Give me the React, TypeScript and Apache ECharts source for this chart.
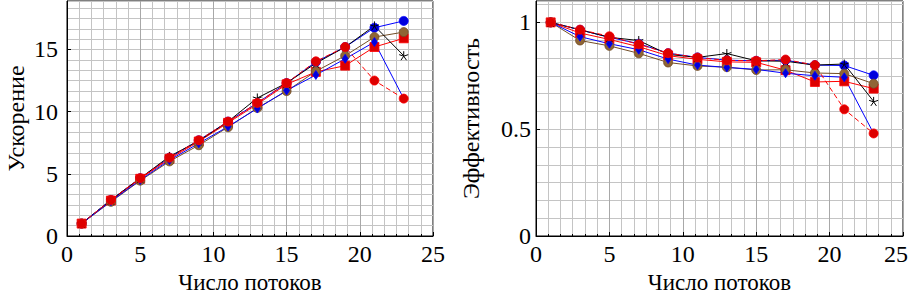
import React, { useEffect, useRef } from "react";
import * as echarts from "echarts";

const threads = [1, 3, 5, 7, 9, 11, 13, 15, 17, 19, 21, 23];

// Speedup (left chart)
const speedBlueCircle = [1, 2.9, 4.65, 6.3, 7.7, 9.2, 10.7, 12.3, 14.0, 15.2, 16.75, 17.3];
const speedRedSquare = [1, 2.85, 4.6, 6.2, 7.6, 9.1, 10.6, 12.2, 13.2, 13.7, 15.2, 15.9];
const speedBrown = [1, 2.75, 4.45, 6.0, 7.3, 8.75, 10.3, 11.65, 13.25, 14.5, 16.0, 16.4];
const speedBlackStar = [1, 2.9, 4.65, 6.4, 7.65, 9.2, 11.1, 12.3, 13.9, 15.2, 16.9, 14.5];
const speedBlueDiamond = [1, 2.8, 4.5, 6.1, 7.45, 8.8, 10.25, 11.7, 12.95, 14.25, 15.6, 11.05];
const speedRedDashed = [1, 2.9, 4.65, 6.3, 7.7, 9.2, 10.7, 12.3, 14.05, 15.2, 12.5, 11.05];

// Efficiency (right chart)
const effBlueCircle = [1, 0.965, 0.93, 0.9, 0.856, 0.836, 0.823, 0.82, 0.823, 0.8, 0.798, 0.752];
const effRedSquare = [1, 0.95, 0.92, 0.886, 0.844, 0.827, 0.815, 0.813, 0.776, 0.721, 0.724, 0.69];
const effBrown = [1, 0.915, 0.89, 0.855, 0.812, 0.796, 0.79, 0.777, 0.778, 0.763, 0.76, 0.713];
const effBlackStar = [1, 0.965, 0.93, 0.915, 0.85, 0.836, 0.854, 0.82, 0.818, 0.8, 0.805, 0.63];
const effBlueDiamond = [1, 0.933, 0.9, 0.872, 0.828, 0.8, 0.789, 0.78, 0.762, 0.75, 0.743, 0.48];
const effRedDashed = [1, 0.966, 0.935, 0.897, 0.856, 0.835, 0.822, 0.82, 0.826, 0.8, 0.593, 0.48];

const xTitle = "Число потоков";
const leftTitle = "Ускорение";
const rightTitle = "Эффективность";

const FONT = "Liberation Serif";
const FS = 24;
const STAR = "path://M0,-10L0,0M9.51,-3.09L0,0M5.88,8.09L0,0M-5.88,8.09L0,0M-9.51,-3.09L0,0";

type Style = {
  line: string;
  fill: string;
  symbol: string;
  size: number | number[];
  dashed?: boolean;
  star?: boolean;
};

const styles: Style[] = [
  { line: "#0000ff", fill: "#0000dd", symbol: "circle", size: 9 },
  { line: "#ff0000", fill: "#dd0000", symbol: "rect", size: 9 },
  { line: "#734d26", fill: "#8f6535", symbol: "circle", size: 9 },
  { line: "#000000", fill: "transparent", symbol: STAR, size: 9, star: true },
  { line: "#0000ff", fill: "#0000dd", symbol: "diamond", size: [6, 9] },
  { line: "#ff0000", fill: "#dd0000", symbol: "circle", size: 9, dashed: true },
];

function mk(vals: number[], st: Style, xi: number, yi: number) {
  return {
    type: "line",
    xAxisIndex: xi,
    yAxisIndex: yi,
    data: threads.map((t, i) => [t, vals[i]]),
    symbol: st.symbol,
    symbolSize: st.size,
    showSymbol: true,
    lineStyle: { color: st.line, width: 1, type: st.dashed ? [5, 3] : "solid" },
    itemStyle: {
      color: st.fill,
      borderColor: st.line,
      borderWidth: st.star ? 1 : 0.8,
    },
    emphasis: { disabled: true },
    z: 5,
  };
}

function xAxisFor(gi: number, shiftMax: boolean) {
  return {
    type: "value",
    gridIndex: gi,
    min: 0,
    max: 25,
    interval: 5,
    name: xTitle,
    nameLocation: "middle",
    nameGap: 22,
    nameTextStyle: { fontFamily: FONT, fontSize: 23, color: "#000", lineHeight: 23 },
    axisLine: { show: true, onZero: false, lineStyle: { color: "#000", width: 1 } },
    axisTick: { show: true, inside: true, length: 4, lineStyle: { color: "#000" } },
    minorTick: { show: true, splitNumber: 6, length: 2, lineStyle: { color: "#000" } },
    axisLabel: {
      fontFamily: FONT,
      fontSize: FS,
      color: "#000",
      margin: 6,
      formatter: (v: number) => (shiftMax && v === 25 ? "{m|25}" : String(v)),
      rich: { m: { fontFamily: FONT, fontSize: FS, color: "#000", padding: [0, 14, 0, 0] } },
    },
    splitLine: { show: true, lineStyle: { color: "#a8a8a8", width: 1 } },
    minorSplitLine: { show: true, lineStyle: { color: "#c4c4c4", width: 1 } },
  };
}

function yMain(gi: number, max: number, interval: number, name: string, gap: number, margin: number) {
  return {
    type: "value",
    gridIndex: gi,
    min: 0,
    max,
    interval,
    name,
    nameLocation: "middle",
    nameGap: gap,
    nameTextStyle: { fontFamily: FONT, fontSize: FS, color: "#000" },
    axisLine: { show: true, onZero: false, lineStyle: { color: "#000", width: 1 } },
    axisTick: { show: true, inside: true, length: 4, lineStyle: { color: "#000" } },
    axisLabel: {
      fontFamily: FONT,
      fontSize: FS,
      color: "#000",
      margin,
      showMaxLabel: false,
      formatter: (v: number) => {
        const r = v / interval;
        return Math.abs(r - Math.round(r)) < 1e-6 ? String(Math.round(v * 100) / 100) : "";
      },
    },
    splitLine: { show: true, lineStyle: { color: "#a8a8a8", width: 1 } },
  };
}

function yMinor(gi: number, max: number, interval: number) {
  return {
    type: "value",
    gridIndex: gi,
    min: 0,
    max,
    interval: interval / 6,
    position: "left",
    axisLine: { show: false },
    axisTick: { show: false },
    axisLabel: { show: false },
    splitLine: { show: true, lineStyle: { color: "#c4c4c4", width: 1 } },
    z: 0,
  };
}

export default function App() {
  const ref = useRef<HTMLDivElement>(null);
  useEffect(() => {
    if (!ref.current) return;
    const chart = echarts.init(ref.current, null, { renderer: "svg" });
    const leftSets = [speedBlueCircle, speedRedSquare, speedBrown, speedBlackStar, speedBlueDiamond, speedRedDashed];
    const rightSets = [effBlueCircle, effRedSquare, effBrown, effBlackStar, effBlueDiamond, effRedDashed];
    chart.setOption({
      animation: false,
      backgroundColor: "#fff",
      grid: [
        { left: 67, top: 1, width: 366, height: 235, outerBoundsMode: "none", containLabel: false, show: true, borderColor: "#000", borderWidth: 1, backgroundColor: "transparent" },
        { left: 536, top: 1, width: 367, height: 235, outerBoundsMode: "none", containLabel: false, show: true, borderColor: "#000", borderWidth: 1, backgroundColor: "transparent" },
      ],
      xAxis: [xAxisFor(0, false), xAxisFor(1, true)],
      yAxis: [
        yMain(0, 18.9, 5, leftTitle, 39, 9),
        yMinor(0, 18.9, 5),
        yMain(1, 1.1, 0.5, rightTitle, 53, 5),
        yMinor(1, 1.1, 0.5),
      ],
      series: [
        ...leftSets.map((d, i) => mk(d, styles[i], 0, 0)),
        ...rightSets.map((d, i) => mk(d, styles[i], 1, 2)),
      ],
    });
    return () => chart.dispose();
  }, []);
  return (
    <div
      ref={ref}
      style={{ position: "fixed", left: 0, top: 0, width: 909, height: 291, background: "#fff" }}
    />
  );
}
